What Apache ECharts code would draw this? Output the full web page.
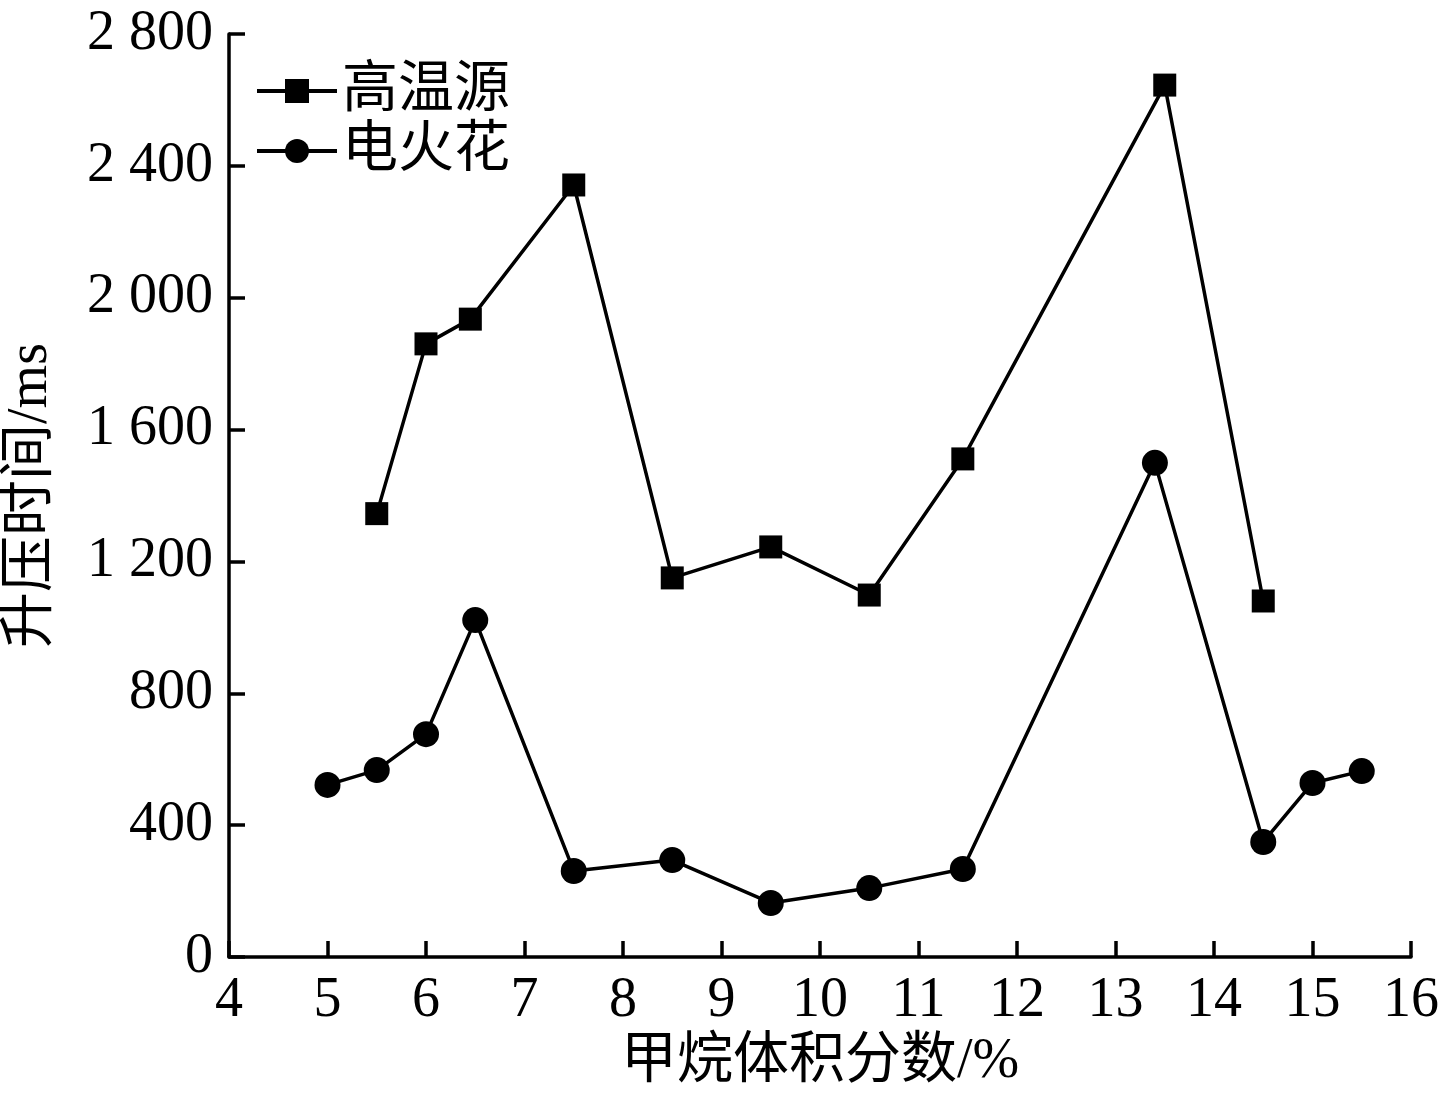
<!DOCTYPE html>
<html>
<head>
<meta charset="utf-8">
<script src="https://cdn.jsdelivr.net/npm/echarts@6/dist/echarts.min.js"></script>
<style>
  html, body { margin: 0; padding: 0; background: #fff; }
  #main { width: 1441px; height: 1097px; }
</style>
</head>
<body>
<div id="main"></div>
<script>
// 甲烷体积分数 / 升压时间
var hotX = [5.5, 6.0, 6.45, 7.5, 8.5, 9.5, 10.5, 11.45, 13.5, 14.5];
var hotY = [1345, 1860, 1935, 2342, 1150, 1244, 1098, 1511, 2645, 1080];
var sparkX = [5.0, 5.5, 6.0, 6.5, 7.5, 8.5, 9.5, 10.5, 11.45, 13.4, 14.5, 15.0, 15.5];
var sparkY = [522, 567, 676, 1022, 261, 294, 164, 209, 267, 1499, 349, 528, 564];
var seriesNames = ['高温源', '电火花'];

var FONT = '"Liberation Serif", "Times New Roman", "Noto Sans CJK SC", serif';

function pairs(xs, ys) {
    return xs.map(function (x, i) { return [x, ys[i]]; });
}

function fmt(v) {
    // 千位用空格分隔, e.g. 2 800
    return String(v).replace(/\B(?=(\d{3})+(?!\d))/g, ' ');
}

var chart = echarts.init(document.getElementById('main'), null, { renderer: 'canvas' });

var axisCommon = {
    axisLine: { show: true, lineStyle: { color: '#000', width: 3.5 } },
    axisTick: { show: true, inside: true, length: 16, lineStyle: { color: '#000', width: 3.5 } },
    splitLine: { show: false },
    axisLabel: { color: '#000', fontSize: 56, fontFamily: FONT }
};

var option = {
    backgroundColor: '#fff',
    animation: false,
    grid: { left: 229, right: 30, top: 34, bottom: 140, containLabel: false, outerBoundsMode: 'none' },
    legend: {
        orient: 'vertical',
        left: 250,
        top: 58,
        itemWidth: 80,
        itemHeight: 30,
        itemGap: 4,
        lineStyle: { width: 4, color: '#000' },
        textStyle: { color: '#000', fontSize: 56, fontFamily: FONT },
        data: seriesNames.map(function (n) {
            return { name: n, lineStyle: { width: 4, color: '#000' } };
        })
    }
};

option.xAxis = Object.assign({}, axisCommon, {
    type: 'value',
    min: 4,
    max: 16,
    interval: 1,
    name: '甲烷体积分数/%',
    nameLocation: 'middle',
    nameGap: 76,
    nameTextStyle: { color: '#000', fontSize: 56, fontFamily: FONT },
    axisLabel: Object.assign({}, axisCommon.axisLabel, { margin: 16 })
});

option.yAxis = Object.assign({}, axisCommon, {
    type: 'value',
    min: 0,
    max: 2800,
    interval: 400,
    name: '升压时间/ms',
    nameLocation: 'middle',
    nameGap: 170,
    nameTextStyle: { color: '#000', fontSize: 56, fontFamily: FONT },
    axisLabel: Object.assign({}, axisCommon.axisLabel, {
        margin: 16,
        formatter: function (v) { return fmt(v); }
    })
});

option.series = [
    {
        name: seriesNames[0],
        type: 'line',
        data: pairs(hotX, hotY),
        symbol: 'rect',
        symbolSize: 23,
        itemStyle: { color: '#000' },
        lineStyle: { color: '#000', width: 3.5 }
    },
    {
        name: seriesNames[1],
        type: 'line',
        data: pairs(sparkX, sparkY),
        symbol: 'circle',
        symbolSize: 26,
        itemStyle: { color: '#000' },
        lineStyle: { color: '#000', width: 3.5 }
    }
];

chart.setOption(option);
</script>
</body>
</html>
